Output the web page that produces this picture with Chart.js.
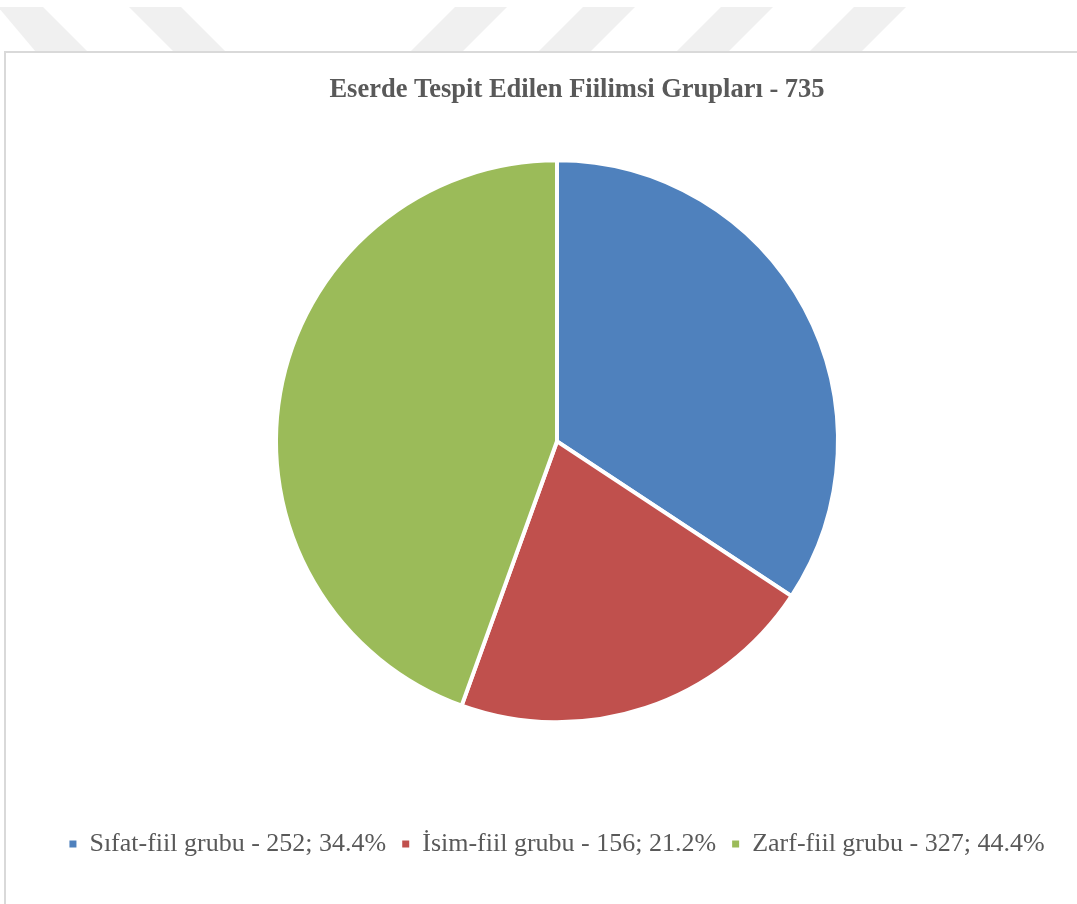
<!DOCTYPE html>
<html>
<head>
<meta charset="utf-8">
<script src="https://cdn.jsdelivr.net/npm/chart.js@4/dist/chart.umd.min.js"></script>
<style>
  html, body { margin: 0; padding: 0; background: #ffffff; width: 1077px; height: 904px; overflow: hidden; position: relative; }
  .stripe { position: absolute; left: 0; top: 0; width: 1077px; height: 60px; background: #f0f0f0; filter: blur(0.6px); }
  #box { position: absolute; left: 4px; top: 51px; width: 1200px; height: 1000px; border: 2px solid #d9d9d9; background: #ffffff; box-sizing: border-box; }
  #wrap { position: absolute; left: 6px; top: 53px; width: 1102px; height: 851px; }
</style>
</head>
<body>
<div class="stripe" style="clip-path: polygon(-2px 7px, 43px 7px, 88px 52px, 36px 52px);"></div>
<div class="stripe" style="clip-path: polygon(129px 7px, 181px 7px, 226px 52px, 174px 52px);"></div>
<div class="stripe" style="clip-path: polygon(455px 7px, 507px 7px, 462px 52px, 410px 52px);"></div>
<div class="stripe" style="clip-path: polygon(583px 7px, 635px 7px, 590px 52px, 538px 52px);"></div>
<div class="stripe" style="clip-path: polygon(721px 7px, 773px 7px, 728px 52px, 676px 52px);"></div>
<div class="stripe" style="clip-path: polygon(854px 7px, 906px 7px, 861px 52px, 809px 52px);"></div>
<div id="box"></div>
<div id="wrap"><canvas id="chart" width="1102" height="851"></canvas></div>
<script>
const chartTitle = 'Eserde Tespit Edilen Fiilimsi Grupları - 735';
const categories = ['Sıfat-fiil grubu', 'İsim-fiil grubu', 'Zarf-fiil grubu'];
const counts = [252, 156, 327];
const percentLabels = ['34.4%', '21.2%', '44.4%'];
const sliceColors = ['#4f81bd', '#c0504d', '#9bbb59'];

const legendLabels = categories.map((c, i) => c + ' - ' + counts[i] + '; ' + percentLabels[i]);

const titleShift = {
  id: 'titleShift',
  afterLayout(chart) {
    if (chart.titleBlock) {
      chart.titleBlock.left += 20;
      chart.titleBlock.right += 20;
    }
  }
};

new Chart(document.getElementById('chart'), {
  type: 'pie',
  data: {
    labels: legendLabels,
    datasets: [{
      data: counts,
      backgroundColor: sliceColors,
      borderColor: '#ffffff',
      borderWidth: 4,
      hoverOffset: 0
    }]
  },
  plugins: [titleShift],
  options: {
    responsive: false,
    animation: false,
    radius: 281,
    layout: { padding: { top: 0, bottom: 37, left: 0, right: 0 } },
    plugins: {
      tooltip: { enabled: false },
      title: {
        display: true,
        text: chartTitle,
        color: '#595959',
        font: { family: "'Liberation Serif', 'Times New Roman', serif", size: 26.5, weight: 'bold', lineHeight: 1.2 },
        padding: { top: 21, bottom: 52 }
      },
      legend: {
        display: true,
        position: 'bottom',
        title: { display: true, text: '', font: { size: 1 }, padding: { top: 89, bottom: 0 } },
        labels: {
          color: '#595959',
          font: { family: "'Liberation Serif', 'Times New Roman', serif", size: 26 },
          boxWidth: 7,
          boxHeight: 7,
          padding: 16,
          generateLabels(chart) {
            const items = Chart.overrides.pie.plugins.legend.labels.generateLabels(chart);
            items.forEach(it => { it.lineWidth = 0; it.strokeStyle = 'rgba(0,0,0,0)'; });
            return items;
          }
        }
      }
    }
  }
});
</script>
</body>
</html>
